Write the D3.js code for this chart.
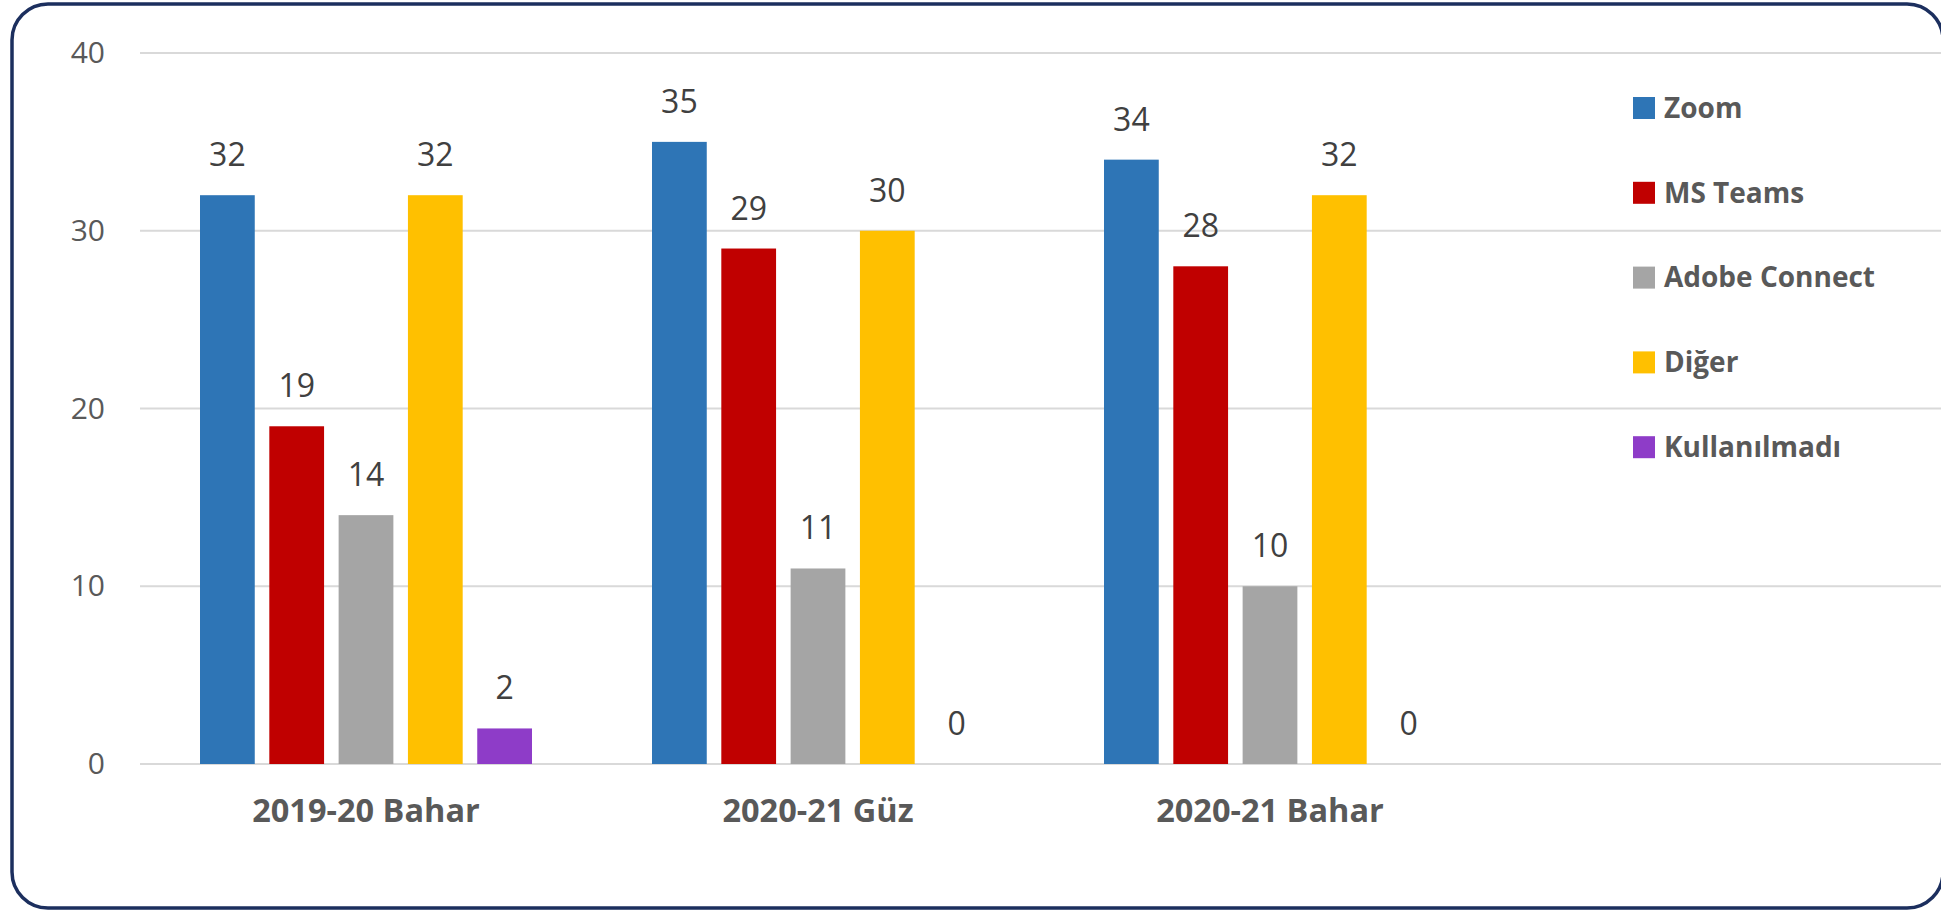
<!DOCTYPE html>
<html>
<head>
<meta charset="utf-8">
<script src="https://cdn.jsdelivr.net/npm/d3@7"></script>
<style>
  html, body { margin: 0; padding: 0; background: #ffffff; }
  svg { display: block; }
</style>
</head>
<body>
<svg id="chart" width="1941" height="911"></svg>
<script>
// ---- data ----
const categories = ["2019-20 Bahar", "2020-21 Güz", "2020-21 Bahar"];
const seriesNames = ["Zoom", "MS Teams", "Adobe Connect", "Diğer", "Kullanılmadı"];
const zoomValues = [32, 35, 34];
const teamsValues = [19, 29, 28];
const adobeValues = [14, 11, 10];
const digerValues = [32, 30, 32];
const kullanilmadiValues = [2, 0, 0];
const yTicks = [0, 10, 20, 30, 40];
const seriesColors = ["#2E75B6", "#C00000", "#A5A5A5", "#FFC000", "#8E3CC8"];

const seriesValues = [zoomValues, teamsValues, adobeValues, digerValues, kullanilmadiValues];

// ---- layout ----
const svg = d3.select("#chart");
const plotLeft = 140, bandW = 452, plotRight = 1941;
const yTop = 53, yBottom = 764;

// border
svg.append("rect")
  .attr("x", 12).attr("y", 4)
  .attr("width", 1931).attr("height", 904)
  .attr("rx", 36).attr("ry", 36)
  .attr("fill", "#ffffff")
  .attr("stroke", "#1C2F5E")
  .attr("stroke-width", 3.5);

const x0 = d3.scaleBand()
  .domain(categories)
  .range([plotLeft, plotLeft + bandW * categories.length])
  .paddingInner(0).paddingOuter(0);

const groupPad = 60;
const x1 = d3.scaleBand()
  .domain(seriesNames)
  .range([groupPad, bandW - groupPad])
  .paddingInner(0.21).paddingOuter(0);

const y = d3.scaleLinear().domain([0, 40]).range([yBottom, yTop]);

// gridlines
svg.append("g")
  .selectAll("line")
  .data(yTicks)
  .join("line")
  .attr("x1", plotLeft).attr("x2", plotRight)
  .attr("y1", d => y(d)).attr("y2", d => y(d))
  .attr("stroke", "#D9D9D9")
  .attr("stroke-width", 2);

// y axis labels
const yAxis = d3.axisLeft(y).tickValues(yTicks).tickSize(0).tickPadding(0);
const gy = svg.append("g")
  .attr("transform", `translate(${plotLeft - 35},0)`)
  .call(yAxis);
gy.select(".domain").remove();
gy.selectAll("text")
  .attr("font-family", "'Open Sans', sans-serif")
  .attr("font-size", 30)
  .attr("fill", "#595959");

// bars
const rows = [];
categories.forEach((c, ci) => {
  seriesNames.forEach((s, si) => {
    rows.push({ cat: c, series: s, value: seriesValues[si][ci], color: seriesColors[si] });
  });
});

const groups = svg.append("g").selectAll("g")
  .data(categories)
  .join("g")
  .attr("transform", d => `translate(${x0(d)},0)`);

groups.selectAll("rect")
  .data(c => rows.filter(r => r.cat === c))
  .join("rect")
  .attr("x", d => x1(d.series))
  .attr("width", x1.bandwidth())
  .attr("y", d => y(d.value))
  .attr("height", d => y(0) - y(d.value))
  .attr("fill", d => d.color);

groups.selectAll("text.val")
  .data(c => rows.filter(r => r.cat === c))
  .join("text")
  .attr("class", "val")
  .attr("x", d => x1(d.series) + x1.bandwidth() / 2)
  .attr("y", d => y(d.value) - 29)
  .attr("text-anchor", "middle")
  .attr("font-family", "'Open Sans', sans-serif")
  .attr("font-size", 32)
  .attr("fill", "#404040")
  .text(d => d.value);

// x axis category labels
const xAxis = d3.axisBottom(x0).tickSize(0).tickPadding(0);
const gx = svg.append("g")
  .attr("transform", `translate(0,${yBottom})`)
  .call(xAxis);
gx.select(".domain").remove();
gx.selectAll("text")
  .attr("dy", null)
  .attr("y", 58)
  .attr("font-family", "'Open Sans', sans-serif")
  .attr("font-weight", "bold")
  .attr("font-size", 32.5)
  .attr("fill", "#595959");

// legend
const legend = svg.append("g").attr("transform", "translate(1633,0)");
const legendY0 = 108, legendStep = 84.8;
const li = legend.selectAll("g")
  .data(seriesNames)
  .join("g")
  .attr("transform", (d, i) => `translate(0,${legendY0 + i * legendStep})`);
li.append("rect")
  .attr("x", 0).attr("y", -11)
  .attr("width", 22).attr("height", 22)
  .attr("fill", (d, i) => seriesColors[i]);
li.append("text")
  .attr("x", 31).attr("y", 0)
  .attr("dy", "0.35em")
  .attr("font-family", "'Open Sans', sans-serif")
  .attr("font-weight", "bold")
  .attr("font-size", 28)
  .attr("fill", "#595959")
  .text(d => d);
</script>
</body>
</html>
